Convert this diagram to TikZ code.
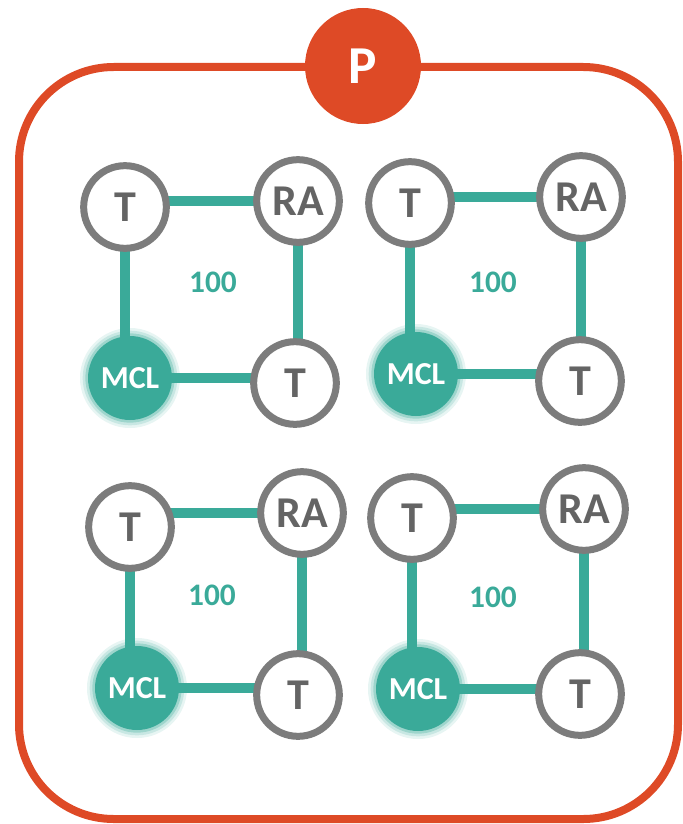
\documentclass[tikz,border=0pt]{standalone}
\usepackage{fontspec}
\setmainfont{Carlito}
\usetikzlibrary{backgrounds}
\definecolor{framec}{RGB}{222,74,38}
\definecolor{tealc}{RGB}{58,170,153}
\definecolor{ringc}{RGB}{124,124,124}
\definecolor{txtc}{RGB}{100,100,100}
\begin{document}
\begin{tikzpicture}[x=0.75pt,y=-0.75pt,
  tnode/.style={circle,draw=ringc,line width=5.25pt,fill=white,minimum size=62pt,inner sep=0pt,
    text=txtc,font=\fontsize{33}{36}\selectfont\bfseries},
  mcl/.style={circle,fill=tealc,minimum size=63pt,inner sep=0pt,text=white,
    font=\fontsize{24}{26}\selectfont\bfseries,
    preaction={draw=tealc,draw opacity=0.12,line width=12pt},
    preaction={draw=tealc,draw opacity=0.18,line width=8pt},
    preaction={draw=tealc,draw opacity=0.30,line width=4pt}},
  link/.style={draw=tealc,line width=7.5pt},
  num/.style={text=tealc,font=\fontsize{23.5}{26}\selectfont\bfseries},
  pnode/.style={circle,fill=framec,minimum size=87pt,inner sep=0pt,text=white,
    font=\fontsize{40}{42}\selectfont\bfseries},
]
\useasboundingbox (0,0) rectangle (682,824);
\draw[draw=framec,line width=6pt,rounded corners=71pt] (19,67) rectangle (678,819);
\node[pnode] (P) at (363,66) {P};

% top-left
\node[tnode] (a1) at (125,207) {T};
\node[tnode] (a2) at (298,201) {RA};
\node[mcl]   (a3) at (130,378) {MCL};
\node[tnode] (a4) at (295,383) {T};
\node[num]   (a5) at (213,282) {100};
% top-right
\node[tnode] (b1) at (410,203) {T};
\node[tnode] (b2) at (581,197) {RA};
\node[mcl]   (b3) at (416,374) {MCL};
\node[tnode] (b4) at (580,381) {T};
\node[num]   (b5) at (493,282) {100};
% bottom-left
\node[tnode] (c1) at (130,527) {T};
\node[tnode] (c2) at (302,513) {RA};
\node[mcl]   (c3) at (137,688) {MCL};
\node[tnode] (c4) at (298,695) {T};
\node[num]   (c5) at (212,595) {100};
% bottom-right
\node[tnode] (d1) at (412,518) {T};
\node[tnode] (d2) at (584,509) {RA};
\node[mcl]   (d3) at (418,689) {MCL};
\node[tnode] (d4) at (580,694) {T};
\node[num]   (d5) at (493,597) {100};

\begin{scope}[on background layer]
\foreach \s in {a,b,c,d}{
  \draw[link] (\s1.center |- \s2.center) -- (\s2.center);
  \draw[link] (\s1.center) -- (\s1.center |- \s3.center);
  \draw[link] (\s2.center) -- (\s2.center |- \s4.center);
  \draw[link] (\s3.center) -- (\s3.center -| \s4.center);
}
\end{scope}
\end{tikzpicture}
\end{document}
